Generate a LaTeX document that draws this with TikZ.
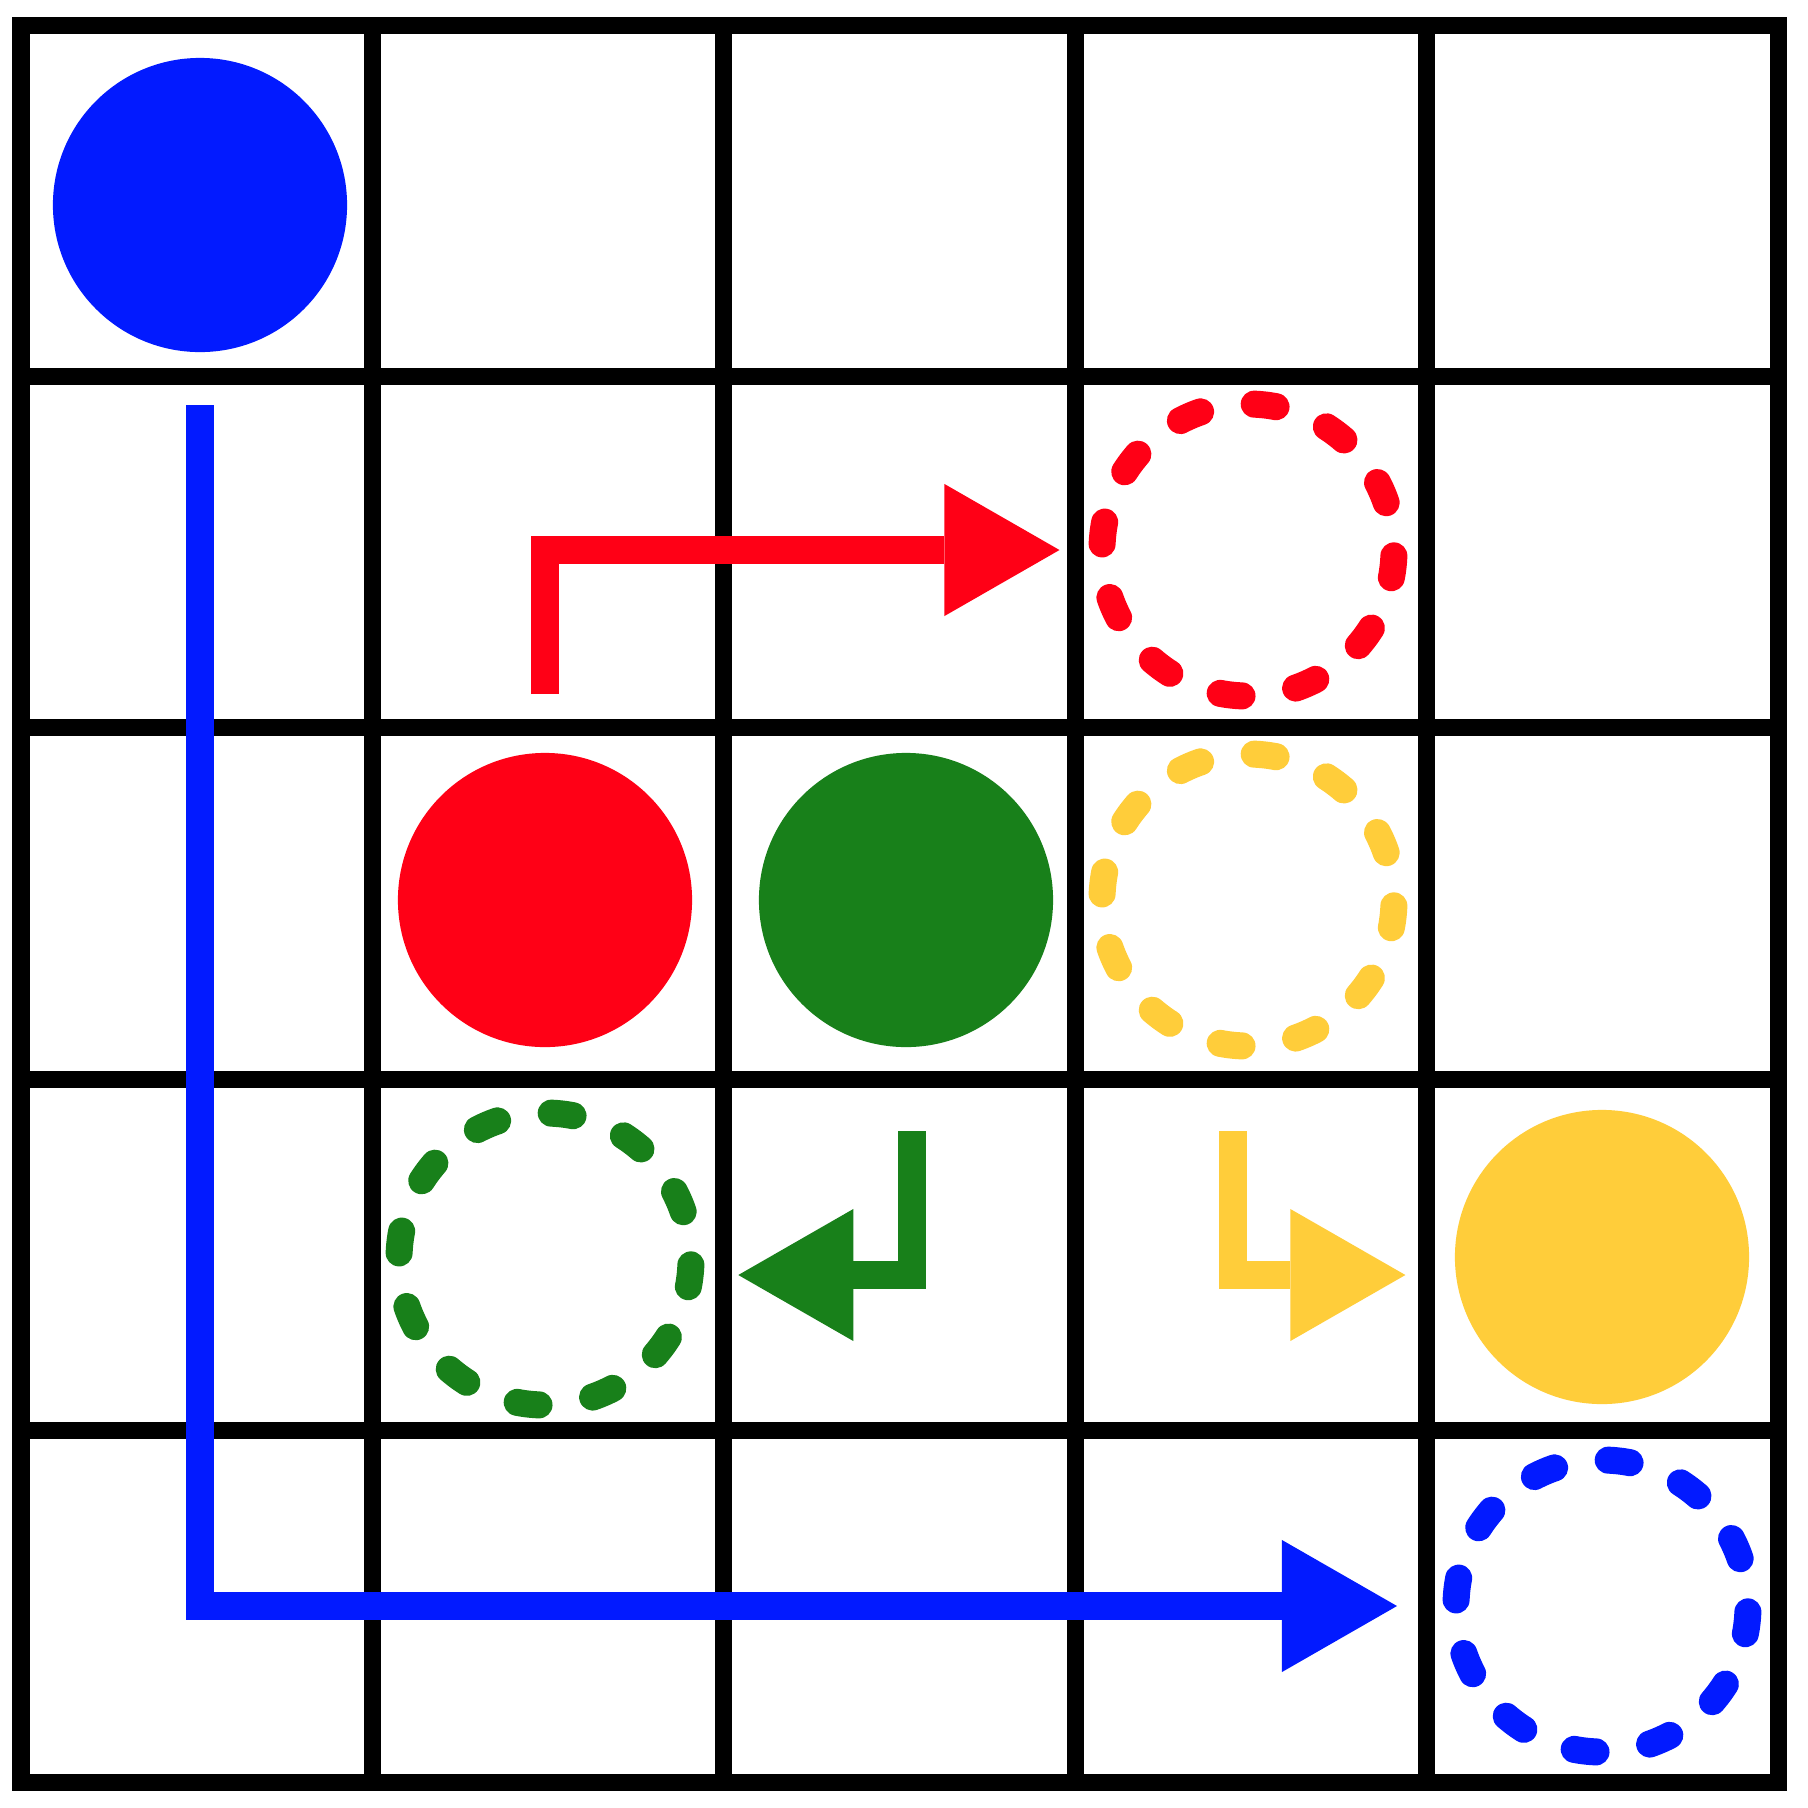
\documentclass[tikz,border=0pt]{standalone}
\usetikzlibrary{arrows.meta}
\definecolor{cblue}{RGB}{2,26,255}
\definecolor{cred}{RGB}{255,0,22}
\definecolor{cgreen}{RGB}{24,128,26}
\definecolor{cyellow}{RGB}{255,205,58}
\tikzset{
  gridline/.style={line width=0.17cm, black},
  token/.style={circle, minimum size=2.94cm, inner sep=0pt, outer sep=0pt, draw=none},
  goal/.style={circle, minimum size=2.92cm, inner sep=0pt, outer sep=0pt, draw=none, fill=none},
  goalring/.style={line width=0.27cm, line cap=round,
     dash pattern=on 0.22cm off 0.5445cm, dash phase=0.706cm},
  movearrow/.style={line width=0.28cm, line join=miter, line cap=butt,
     -{Triangle[length=1.15cm,width=1.32cm,line width=0pt]}}
}
\begin{document}
\begin{tikzpicture}[x=0.01cm,y=-0.01cm]
\useasboundingbox (0,0) rectangle (1808,1808);
\fill[white] (0,0) rectangle (1808,1808);
% grid
\foreach \i in {1,2,3,4}{
  \draw[gridline] ({21+351.4*\i},25) -- ({21+351.4*\i},1782);
  \draw[gridline] (21,{25+351.4*\i}) -- (1778,{25+351.4*\i});
}
\draw[gridline, line join=miter] (21,25) rectangle (1778,1782);
% solid tokens
\node[token, fill=cblue]   (blueTok)   at (200,205) {};
\node[token, fill=cred]    (redTok)    at (545,900) {};
\node[token, fill=cgreen]  (greenTok)  at (906,900) {};
\node[token, fill=cyellow] (yellowTok) at (1602,1257) {};
% dashed goals
\node[goal] (redGoal)    at (1248,550) {};
\node[goal] (yellowGoal) at (1248,900) {};
\node[goal] (greenGoal)  at (545,1259) {};
\node[goal] (blueGoal)   at (1602,1606) {};
\draw[goalring, cred]    (redGoal.center)    circle[radius=146];
\draw[goalring, cyellow] (yellowGoal.center) circle[radius=146];
\draw[goalring, cgreen]  (greenGoal.center)  circle[radius=146];
\draw[goalring, cblue]   (blueGoal.center)   circle[radius=146];
% arrow endpoints
\coordinate (b1) at (200,405);
\coordinate (b2) at (1397,1606);
\coordinate (r1) at (544.6,694);
\coordinate (r2) at (1059.5,550);
\coordinate (g1) at (912,1131);
\coordinate (g2) at (738.3,1275);
\coordinate (y1) at (1233,1131);
\coordinate (y2) at (1405.4,1275);
\draw[movearrow, cblue]   (b1) |- (b2);
\draw[movearrow, cred]    (r1) |- (r2);
\draw[movearrow, cgreen]  (g1) |- (g2);
\draw[movearrow, cyellow] (y1) |- (y2);
\end{tikzpicture}
\end{document}
